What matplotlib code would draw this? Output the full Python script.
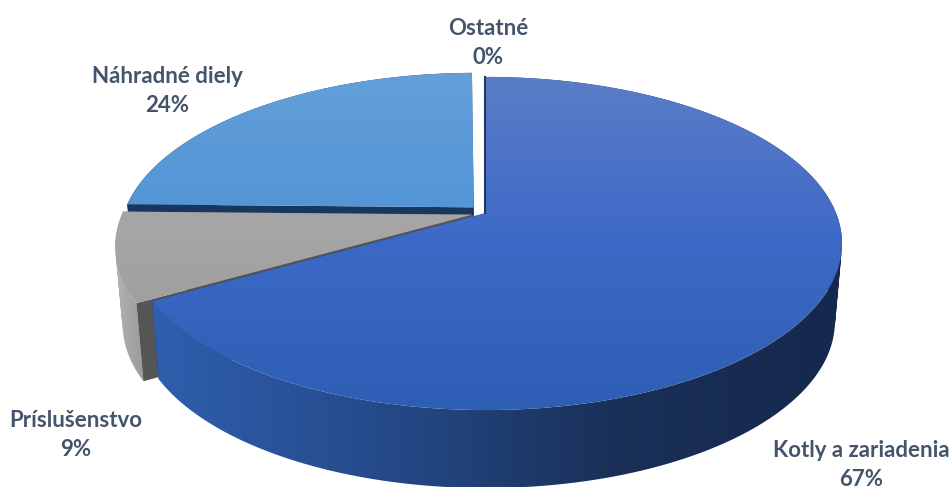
import numpy as np
import matplotlib
matplotlib.use("Agg")
import matplotlib.pyplot as plt
from matplotlib.colors import LinearSegmentedColormap
from matplotlib.patches import PathPatch, Polygon
from matplotlib.path import Path

# shares from the chart, clockwise from 12 o'clock (labels show them rounded)
categories = ["Kotly a zariadenia", "Príslušenstvo", "Náhradné diely", "Ostatné"]
shares = [66.7, 8.6, 24.5, 0.2]
explode = [0.0, 0.04, 0.05, 0.0]

top_colors = [["#5c7ec8", "#3d69c6", "#2e5eb4"],
              ["#ababab", "#a5a5a5", "#969696"],
              ["#649fd9", "#4f93d6", "#4387c9"]]
side_colors = [["#2f5fae", "#254a8a", "#1a3058", "#15284d"],
               ["#b4b4b4", "#8a8a8a"],
               ["#17375e", "#17375e"]]
cut_colors = ["#1f3864", "#555555", "#17375e"]

label_pos = [(861, 465), (76, 435), (167, 91), (488, 43)]

# tilted disc, in pixels of the picture
cx, cy = 486, 213
rx, ry, tilt = 350, 161, 0.183
depth, shrink = 78, 0.98


def project(u, v):
    w = 1 + tilt * v
    return cx + rx * u / w, cy - ry * v / w


def lower(x, y):
    return cx + shrink * (x - cx), y + depth


def gradient_fill(path, colors, ext, horizontal=False, z=1):
    patch = PathPatch(path, fc="none", ec="none", zorder=z)
    ax.add_patch(patch)
    grad = np.linspace(0, 1, 256)
    grad = grad.reshape(1, -1) if horizontal else grad.reshape(-1, 1)
    cmap = LinearSegmentedColormap.from_list("g", colors)
    im = ax.imshow(grad, cmap=cmap, extent=ext, aspect="auto", zorder=z,
                   interpolation="bilinear")
    im.set_clip_path(patch)


def wall_path(x, y, lx, ly):
    # one quad per arc step, all wound the same way so the silhouette stays closed
    verts, codes = [], []
    for k in range(len(x) - 1):
        quad = np.array([[x[k], y[k]], [x[k + 1], y[k + 1]], [lx[k + 1], ly[k + 1]], [lx[k], ly[k]]])
        area = np.sum(quad[:, 0] * np.roll(quad[:, 1], -1) - np.roll(quad[:, 0], -1) * quad[:, 1])
        if area < 0:
            quad = quad[::-1]
        verts.extend(quad.tolist() + [quad[0].tolist()])
        codes.extend([Path.MOVETO, Path.LINETO, Path.LINETO, Path.LINETO, Path.CLOSEPOLY])
    return Path(verts, codes)


fig = plt.figure(figsize=(9.51, 4.87), dpi=100)
ax = fig.add_axes([0, 0, 1, 1])
wedges, _ = ax.pie(shares, explode=explode, startangle=90, counterclock=False, radius=1)

segments = []
for w in wedges:
    w.set_visible(False)
    t = np.radians(np.linspace(w.theta1, w.theta2, 200))
    segments.append((w.center[0] + w.r * np.cos(t), w.center[1] + w.r * np.sin(t), w.center))

ax.set_aspect("auto")
z = 1
# back to front: spare parts, accessories, boilers
for i in [2, 1, 0]:
    u, v, c = segments[i]
    x, y = project(u, v)
    ax0, ay0 = project(c[0], c[1])
    lx, ly = lower(x, y)
    lax, lay = lower(ax0, ay0)

    # cut faces on both ends of the slice
    for end in [0, -1]:
        face = [(x[end], y[end]), (ax0, ay0), (lax, lay), (lx[end], ly[end])]
        ax.add_patch(Polygon(face, closed=True, fc=cut_colors[i], ec="none", zorder=z))
    z += 1

    # outer wall, over the cut faces only for the big slice
    wall_ext = (min(lx.min(), x.min()), max(lx.max(), x.max()), 487, 0)
    if i == 1:
        wall_ext = (x.min(), lx[np.argmin(y)] + 30, 487, 0)
    gradient_fill(wall_path(x, y, lx, ly), side_colors[i], wall_ext, horizontal=True, z=z if i == 0 else z - 2)
    z += 1

    top = np.r_[np.c_[x, y], [[ax0, ay0], [x[0], y[0]]]]
    gradient_fill(Path(top, closed=True), top_colors[i], (0, 951, 410, 70), z=z)
    z += 1

# dark edge on the back cut of the big slice
u, v, c = segments[0]
x, y = project(u, v)
ax.plot([x[-1] - 1, cx - 1], [y[-1], cy], color=cut_colors[0], lw=1.5, zorder=z)

for name, share, (tx, ty) in zip(categories, shares, label_pos):
    ax.text(tx, ty, f"{name}\n{share:.0f}%", ha="center", va="center", color="#44546a",
            family="Lato", weight="bold", fontsize=16, linespacing=1.42, zorder=z + 1)

ax.set_xlim(0, 951)
ax.set_ylim(487, 0)
ax.axis("off")
fig.savefig("out.png", dpi=100, facecolor="white")
